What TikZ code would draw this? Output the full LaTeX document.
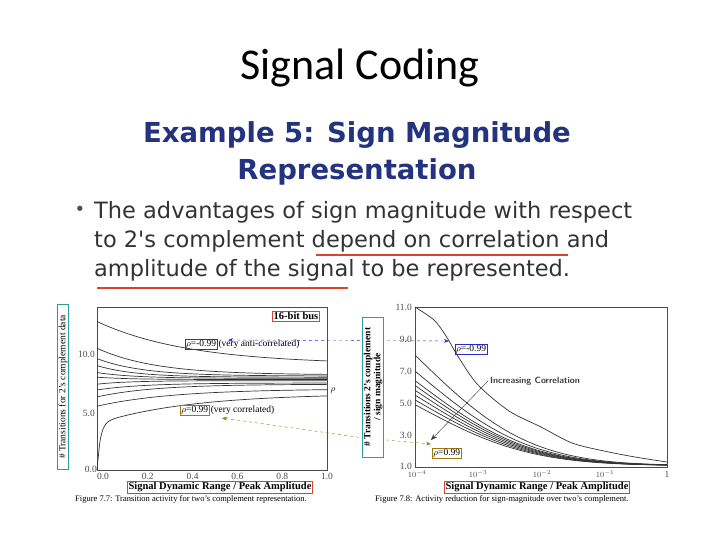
\documentclass[tikz,border=0pt]{standalone}
\usepackage{fontspec}
\setmainfont{Liberation Serif}
\newfontfamily\calfnt{Carlito}
\newfontfamily\dvfnt{DejaVu Sans}
\usetikzlibrary{arrows.meta}
\definecolor{headblue}{HTML}{23337F}
\definecolor{teal1}{HTML}{2E9C9A}
\definecolor{red1}{HTML}{D9432E}
\definecolor{brown1}{HTML}{A0780F}
\definecolor{blue1}{HTML}{2A2ACF}
\tikzset{
 lbl/.style={font=\fontsize{9.5}{10}\selectfont, inner sep=1pt},
 tick/.style={font=\fontsize{9.5}{10}\selectfont, inner sep=0pt, text=black!70},
 redbox/.style={draw=red1, thick, inner sep=1.2pt, font=\bfseries\fontsize{10.5}{11}\selectfont},
 curve/.style={black!80, line width=0.7pt},
 bul/.style={font=\dvfnt\fontsize{22.5}{24}\selectfont, text=black!80, anchor=west, inner sep=0pt},
}
\begin{document}
\begin{tikzpicture}[x=1pt,y=-1pt]
\useasboundingbox (0,0) rectangle (720,540);
\fill[white] (0,0) rectangle (720,540);
% titles
\node[font=\calfnt\fontsize{44}{48}\selectfont] (title) at (360,68) {Signal Coding};
\node[font=\dvfnt\bfseries\fontsize{27.5}{30}\selectfont, text=headblue] (h1) at (357,135) {Example 5: Sign Magnitude};
\node[font=\dvfnt\bfseries\fontsize{27.5}{30}\selectfont, text=headblue] (h2) at (357,172) {Representation};
\node[font=\dvfnt\fontsize{18}{20}\selectfont, text=black!70] (b) at (80,211) {•};
\node[bul] (l1) at (94,212) {The advantages of sign magnitude with respect};
\node[bul] (l2) at (94,241) {to 2's complement depend on correlation and};
\node[bul] (l3) at (94,270) {amplitude of the signal to be represented.};
\draw[red1, line width=1.5pt] (316,255) -- (568,255);
\draw[red1, line width=1.5pt] (97,288) -- (348,288);
% ---------- left chart
\draw[black!70] (97,307) rectangle (327,470);
\foreach \a/\b/\c in {12.8/9.1/2.5, 10.5/8.2/4, 9.6/8.1/5, 9.0/8.0/6, 8.4/7.9/6, 8.0/7.8/7, 7.4/7.7/7, 6.9/7.5/5, 6.3/7.4/4, 5.5/7.0/3}
  \draw[curve] plot[domain=0:1, samples=50, smooth] ({97+230*\x},{470-11.6*(\b+(\a-\b)*exp(-\c*\x))});
\draw[curve] plot[domain=0:1, samples=80, smooth] ({97+230*\x},{470-11.6*(6.6-2.6*exp(-2.5*\x)-4.0*exp(-70*\x))});
\node[tick, anchor=east] (t10) at (95,354) {10.0};
\node[tick, anchor=east] (t5) at (95,413) {5.0};
\node[tick, anchor=east] (t0) at (97,469) {0.0};
\foreach \v/\s in {0/0.0,0.2/0.2,0.4/0.4,0.6/0.6,0.8/0.8,1/1.0}
  \node[tick] at ({103+224*\v},476) {\s};
\node[draw=teal1, thick, rotate=90, inner sep=1.5pt, minimum width=165pt, font=\fontsize{9.5}{10}\selectfont] (yl) at (63,387) {\# Transitions for 2's complement data};
\node[redbox] (bus) at (296,316) {16-bit bus};
\node[draw=blue1, lbl, anchor=west] (pa) at (185,344) {$\rho$=-0.99};
\node[lbl, anchor=west] (pat) at (pa.east) {(very anti-correlated)};
\node[draw=brown1, thick, lbl, anchor=west] (pc) at (180,410) {$\rho$=0.99};
\node[lbl, anchor=west] (pct) at (pc.east) {(very correlated)};
\node[lbl] (rho) at (333,390) {$\rho$};
\node[redbox] (xl) at (220,487) {Signal Dynamic Range / Peak Amplitude};
\node[font=\fontsize{8.5}{9}\selectfont, anchor=west, inner sep=0pt] (cap1) at (75,499) {Figure 7.7: Transition activity for two's complement representation.};
% ---------- right chart
\draw[black!70] (415,307) rectangle (667,467);
\draw[curve] plot[smooth] coordinates {(415,307) (434,320) (446,336) (459,358) (478,385) (509,411) (541,427) (572,443) (604,451) (635,457) (667,462)};
\foreach \s in {7.8,6.8,6.2,5.9,5.6,5.3,5.0,4.7}
  \draw[curve] plot[domain=0:4, samples=50, smooth] ({415+63*\x},{467-16*(\s-0.9)*exp(-(0.55+0.17*\x)*\x)-1.5});
\node[tick, anchor=east] at (412,307) {11.0};
\node[tick, anchor=east] at (412,339) {9.0};
\node[tick, anchor=east] at (412,371) {7.0};
\node[tick, anchor=east] at (412,403) {5.0};
\node[tick, anchor=east] at (412,435) {3.0};
\node[tick, anchor=east] at (412,466) {1.0};
\node[tick, font=\fontsize{8.5}{9}\selectfont] at (417,474) {$10^{-4}$};
\node[tick, font=\fontsize{8.5}{9}\selectfont] at (478,474) {$10^{-3}$};
\node[tick, font=\fontsize{8.5}{9}\selectfont] at (542,474) {$10^{-2}$};
\node[tick, font=\fontsize{8.5}{9}\selectfont] at (605,474) {$10^{-1}$};
\node[tick] at (667,474) {1};
\node[draw=brown1, thick, lbl, anchor=west] (prc) at (432,453) {$\rho$=0.99};
\node[draw=blue1, lbl, anchor=west] (pra) at (455,349) {$\rho$=-0.99};
\node[font=\sffamily\bfseries\fontsize{9}{10}\selectfont, anchor=west, inner sep=0pt, text=black!75] (inc) at (490,381) {Increasing Correlation};
\coordinate (incA) at (488,381);
\coordinate (incB) at (431,440);
\draw[black!80, -{Stealth[length=6pt]}] (incA) -- (incB);
\node[redbox] (xr) at (537,487) {Signal Dynamic Range / Peak Amplitude};
\node[font=\fontsize{8.5}{9}\selectfont, anchor=west, inner sep=0pt] (cap2) at (375,499) {Figure 7.8: Activity reduction for sign-magnitude over two's complement.};
% ---------- dashed connectors
\coordinate (ba) at (228,340);
\coordinate (bb) at (449,341);
\draw[blue1, dashed, {Stealth[length=5pt]}-{Stealth[length=5pt]}] (ba) -- (bb);
\coordinate (ca) at (222,418);
\coordinate (cm) at (364,438);
\coordinate (cb) at (431,444);
\draw[brown1, dashed, {Stealth[length=5pt]}-{Stealth[length=5pt]}] (ca) -- (cm) -- (cb);
% right axis label, drawn over the dashed lines
\node[draw=teal1, thick, fill=white, rotate=90, inner sep=1.5pt, minimum width=140pt, align=center, font=\bfseries\fontsize{9.5}{10}\selectfont] (yr) at (373,387) {\# Transitions 2's complement\\/ sign magnitude};
\end{tikzpicture}
\end{document}
